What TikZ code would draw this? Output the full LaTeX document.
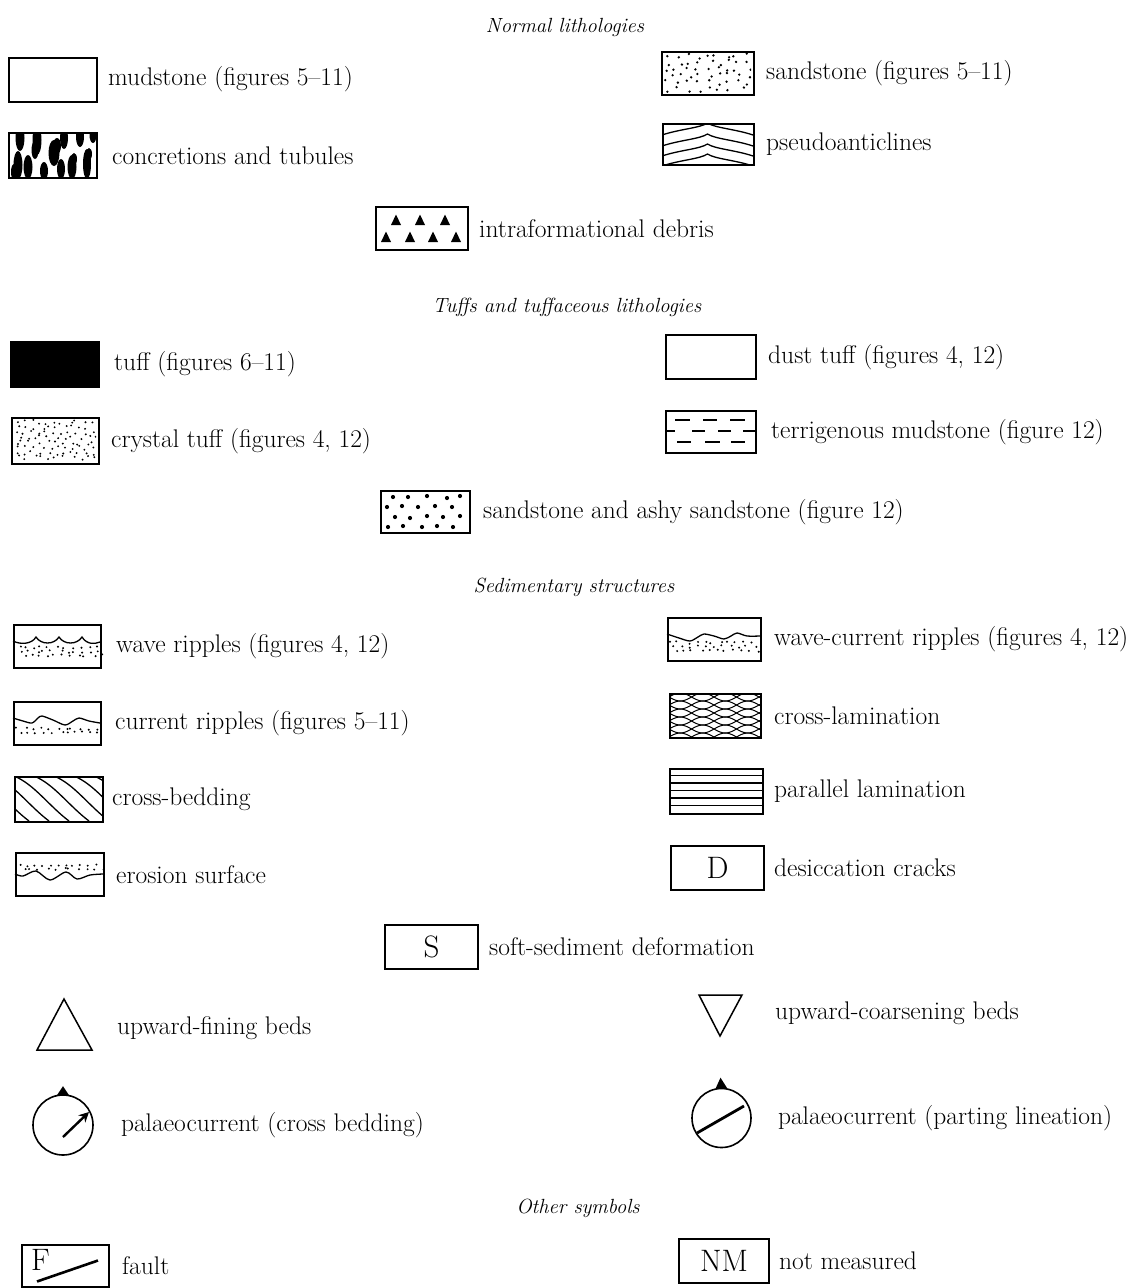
\documentclass[tikz,border=0pt]{standalone}
\usepackage{tikz}
\usetikzlibrary{arrows.meta,positioning,calc}

\begin{document}
\begin{tikzpicture}[x=1pt,y=-1pt,
  kbox/.style={draw=black,line width=2pt,inner sep=0pt,minimum width=88pt,minimum height=44pt},
  ktext/.style={font=\fontsize{25.5}{30}\selectfont,inner sep=0pt},
  khead/.style={font=\fontsize{20.5}{24}\selectfont\itshape,inner sep=0pt},
  kline/.style={line width=1.3pt},
  kbig/.style={font=\fontsize{31}{33}\selectfont}]

\useasboundingbox (0,0) rectangle (1142,1288);
\pgfmathsetseed{42}

% Normal lithologies
\node[khead] (hnormal) at (565,27) {Normal lithologies};

\node[kbox] (mud) at (53,79.5) {};
\node[ktext,right=10pt of mud] (mudlbl) {mudstone (figures 5--11)};

\node[kbox,minimum width=92pt,minimum height=43pt] (sand) at (708,73.5) {};
\node[ktext,right=11pt of sand] (sandlbl) {sandstone (figures 5--11)};
\begin{scope}[shift={(sand.north west)}]
  \clip (2,2) rectangle (90,41);
  \foreach \i in {0,...,8} \foreach \j in {0,...,5}
    \fill ({6+10*\i+3*mod(\j,2)+4*rand},{5+6.6*\j+2.8*rand}) circle (1.3pt);
\end{scope}

\node[kbox,minimum height=45pt] (concr) at (53,155.5) {};
\node[ktext,right=14pt of concr] (concrlbl) {concretions and tubules};
\begin{scope}[shift={(concr.north west)}]
  \clip (0,0) rectangle (88,45);
  \foreach \x/\y/\a/\b in {12/6/4.5/13,10/33/4.5/14,6/40/3/8,20/35/4.5/12,29/8/4.5/15,27/18/3.5/9,36/39/4/9,
      46/21/5.5/13,49/14/4/8,56/6/4/11,53/37/4/10,64/35/4.5/12,66/27/3/6,72/5/4/10,79/32/4/15,81/22/3/6,85/3/3.5/8}
    \fill (\x,\y) ellipse (\a pt and \b pt);
\end{scope}

\node[kbox,minimum width=91pt,minimum height=41pt] (pseudo) at (708.5,144.5) {};
\node[ktext,right=11pt of pseudo] (pseudolbl) {pseudoanticlines};
\begin{scope}[shift={(pseudo.north west)}]
  \clip (0,0) rectangle (91,41);
  \foreach \a in {0,11,21,31}
    \draw[kline] (0,\a+12) .. controls (18,\a+6) and (38,\a+5) .. (45.5,\a)
      .. controls (53,\a+5) and (73,\a+6) .. (91,\a+12);
\end{scope}

\node[kbox,minimum width=92pt,minimum height=43pt] (debris) at (422,228.5) {};
\node[ktext,right=10pt of debris] (debrislbl) {intraformational debris};
\begin{scope}[shift={(debris.north west)}]
  \foreach \x/\y in {21/14,45/14,70/14,11/31,35/31,58/31,81/31}
    \fill (\x-5,\y+5) -- (\x,\y-5.5) -- (\x+5,\y+5) -- cycle;
\end{scope}

% Tuffs and tuffaceous lithologies
\node[khead] (htuff) at (567,307) {Tuffs and tuffaceous lithologies};

\node[kbox,minimum height=45pt,fill=black] (tuff) at (55,364.5) {};
\node[ktext,right=14pt of tuff] (tufflbl) {tuff (figures 6--11)};

\node[kbox,minimum width=90pt] (dust) at (711,357) {};
\node[ktext,right=11pt of dust] (dustlbl) {dust tuff (figures 4, 12)};

\node[kbox,minimum width=87pt,minimum height=46pt] (crystal) at (55.5,441) {};
\node[ktext,right=11pt of crystal] (crystallbl) {crystal tuff (figures 4, 12)};
\begin{scope}[shift={(crystal.north west)}]
  \clip (2,2) rectangle (85,44);
  \foreach \i in {0,...,10} \foreach \j in {0,...,7}
    \fill ({5+7.7*\i+2.5*mod(\j,2)+3.5*rand},{5+5.1*\j+2.3*rand}) circle (1.05pt);
\end{scope}

\node[kbox,minimum width=90pt,minimum height=42pt] (terrig) at (711,432) {};
\node[ktext,right=14pt of terrig] (terriglbl) {terrigenous mudstone (figure 12)};
\begin{scope}[shift={(terrig.north west)}]
  \foreach \a/\b/\y in {10/25/10,38/52/10,65/80/10,0/10/21,27/40/21,53/66/21,78/90/21,12/26/32,40/55/32,66/80/32}
    \draw[line width=1.6pt] (\a,\y) -- (\b,\y);
\end{scope}

\node[kbox,minimum width=89pt,minimum height=42pt] (ashy) at (425.5,512) {};
\node[ktext,right=12pt of ashy] (ashylbl) {sandstone and ashy sandstone (figure 12)};
\begin{scope}[shift={(ashy.north west)}]
  \foreach \x/\y in {13/7,28/7,47/6,67/8,80/6,7/17,22/16,38/17,55/16,72/17,
      15/27,30/28,47/26,63/27,80/26,8/37,23/36,42/37,57/36,73/37}
    \fill (\x,\y) circle (2.1pt);
\end{scope}

% Sedimentary structures
\node[khead] (hsed) at (574,587) {Sedimentary structures};

\node[kbox,minimum width=87pt,minimum height=43pt] (wave) at (57.5,646.5) {};
\node[ktext,right=14pt of wave] (wavelbl) {wave ripples (figures 4, 12)};
\begin{scope}[shift={(wave.north west)}]
  \draw[kline] (0,17) .. controls (8,21) and (19,20) .. (23,13)
    .. controls (28,21) and (41,21) .. (46,13)
    .. controls (51,21) and (64,21) .. (69,13)
    .. controls (74,21) and (82,20) .. (87,18);
  \foreach \i in {0,...,10} \foreach \j in {0,1,2}
    \fill ({5+7.8*\i+2.6*\j+3.2*rand},{23.5+4*\j+1.3*rand}) circle (1.1pt);
\end{scope}

\node[kbox,minimum width=93pt,minimum height=43pt] (wavecur) at (714.5,639.5) {};
\node[ktext,right=12pt of wavecur] (wavecurlbl) {wave-current ripples (figures 4, 12)};
\begin{scope}[shift={(wavecur.north west)}]
  \draw[kline] plot[smooth] coordinates {(0,17) (12,21) (23,24) (31,20) (37,17) (47,19) (57,22) (64,19) (70,16) (80,19) (93,19)};
  \foreach \i in {0,...,10} \foreach \j in {0,1,2}
    \fill ({4+8.2*\i+2.7*\j+3.2*rand},{25.5+4*\j+1.3*rand}) circle (1.1pt);
\end{scope}

\node[kbox,minimum width=87pt,minimum height=43pt] (current) at (57.5,723.5) {};
\node[ktext,right=13pt of current] (currentlbl) {current ripples (figures 5--11)};
\begin{scope}[shift={(current.north west)}]
  \draw[kline] plot[smooth] coordinates {(0,17) (10,20) (19,22) (25,17) (29,15) (40,19) (52,24) (60,20) (66,17) (76,20) (87,22)};
  \foreach \i in {0,...,10} \foreach \j in {0,1}
    \fill ({5+7.8*\i+3.9*\j+3*rand},{27.5+4*\j+1.3*rand}) circle (1.1pt);
\end{scope}

\node[kbox,minimum width=91pt,minimum height=44pt] (crosslam) at (715.5,716) {};
\node[ktext,right=12pt of crosslam] (crosslamlbl) {cross-lamination};
\begin{scope}[shift={(crosslam.north west)}]
  \clip (0,0) rectangle (91,44);
  \foreach \c in {-4,4,...,52} {
    \draw[line width=1pt] plot[domain=0:91,samples=40,smooth] (\x,{\c+4*sin(8*\x)});
    \draw[line width=1pt] plot[domain=0:91,samples=40,smooth] (\x,{\c+4*sin(8*\x+180)});
  }
\end{scope}

\node[kbox,minimum height=45pt] (crossbed) at (59,799.5) {};
\node[ktext,right=8pt of crossbed] (crossbedlbl) {cross-bedding};
\begin{scope}[shift={(crossbed.north west)}]
  \clip (0,0) rectangle (88,45);
  \foreach \s in {-60,-40,...,80}
    \draw[kline] (\s,0) .. controls (\s+20,8) and (\s+35,30) .. (\s+55,45);
\end{scope}

\node[kbox,minimum width=93pt,minimum height=45pt] (parallel) at (716.5,791.5) {};
\node[ktext,right=10pt of parallel] (parallellbl) {parallel lamination};
\begin{scope}[shift={(parallel.north west)}]
  \foreach \y in {7.5,15,22.5,30,37.5}
    \draw[kline] (0,\y) -- (93,\y);
\end{scope}

\node[kbox,minimum height=43pt] (erosion) at (60,874.5) {};
\node[ktext,right=11pt of erosion] (erosionlbl) {erosion surface};
\begin{scope}[shift={(erosion.north west)}]
  \draw[kline] plot[smooth] coordinates {(0,22) (8,24) (21,19) (35,28) (51,20) (62,27) (75,23) (88,22)};
  \foreach \i in {0,...,10} \foreach \j in {0,1}
    \fill ({5+7.8*\i+3.9*\j+3*rand},{13.5+3.5*\j+1*rand}) circle (1.1pt);
\end{scope}

\node[kbox,minimum width=93pt,kbig] (desic) at (717.5,868) {D};
\node[ktext,right=9pt of desic] (desiclbl) {desiccation cracks};

\node[kbox,minimum width=93pt,kbig] (soft) at (431.5,947) {S};
\node[ktext,right=10pt of soft] (softlbl) {soft-sediment deformation};

\draw[line width=1.5pt] (37,1050) -- (64,999) -- (92,1050) -- cycle;
\coordinate (fining) at (92,1028);
\node[ktext,right=25pt of fining] (fininglbl) {upward-fining beds};

\draw[line width=1.5pt] (699,995) -- (742,995) -- (720,1036) -- cycle;
\coordinate (coarse) at (742,1013);
\node[ktext,right=33pt of coarse] (coarselbl) {upward-coarsening beds};

\node[circle,draw,line width=1.6pt,minimum size=60pt,inner sep=0pt] (pcb) at (63,1125) {};
\fill (pcb.north) ++(-6,1) -- ++(6,-9) -- ++(6,9) -- cycle;
\draw[line width=2.4pt,-{Stealth[length=10pt,width=10pt]}] ($(pcb.center)+(0,12)$) -- ($(pcb.center)+(26,-13)$);
\node[ktext,right=27pt of pcb] (pcblbl) {palaeocurrent (cross bedding)};

\node[circle,draw,line width=1.6pt,minimum size=59pt,inner sep=0pt] (ppl) at (721.5,1118) {};
\fill (ppl.north) ++(-6,1) -- ++(5,-11) -- ++(7,11) -- cycle;
\draw[line width=2.8pt] ($(ppl.center)+(-24.5,15)$) -- ($(ppl.center)+(22.5,-12)$);
\node[ktext,right=26pt of ppl] (ppllbl) {palaeocurrent (parting lineation)};

% Other symbols
\node[khead] (hother) at (578,1208) {Other symbols};

\node[kbox,minimum width=87pt,minimum height=42pt] (fault) at (65.5,1265.5) {};
\node[kbig,anchor=north west,inner sep=0pt] (faultF) at ($(fault.north west)+(10,6)$) {F};
\draw[line width=2.6pt] ($(fault.north west)+(16,38)$) -- ($(fault.north west)+(77,17)$);
\node[ktext,right=12pt of fault] (faultlbl) {fault};

\node[kbox,minimum width=90pt,kbig] (nm) at (724,1261) {NM};
\node[ktext,right=9pt of nm] (nmlbl) {not measured};

\end{tikzpicture}
\end{document}
